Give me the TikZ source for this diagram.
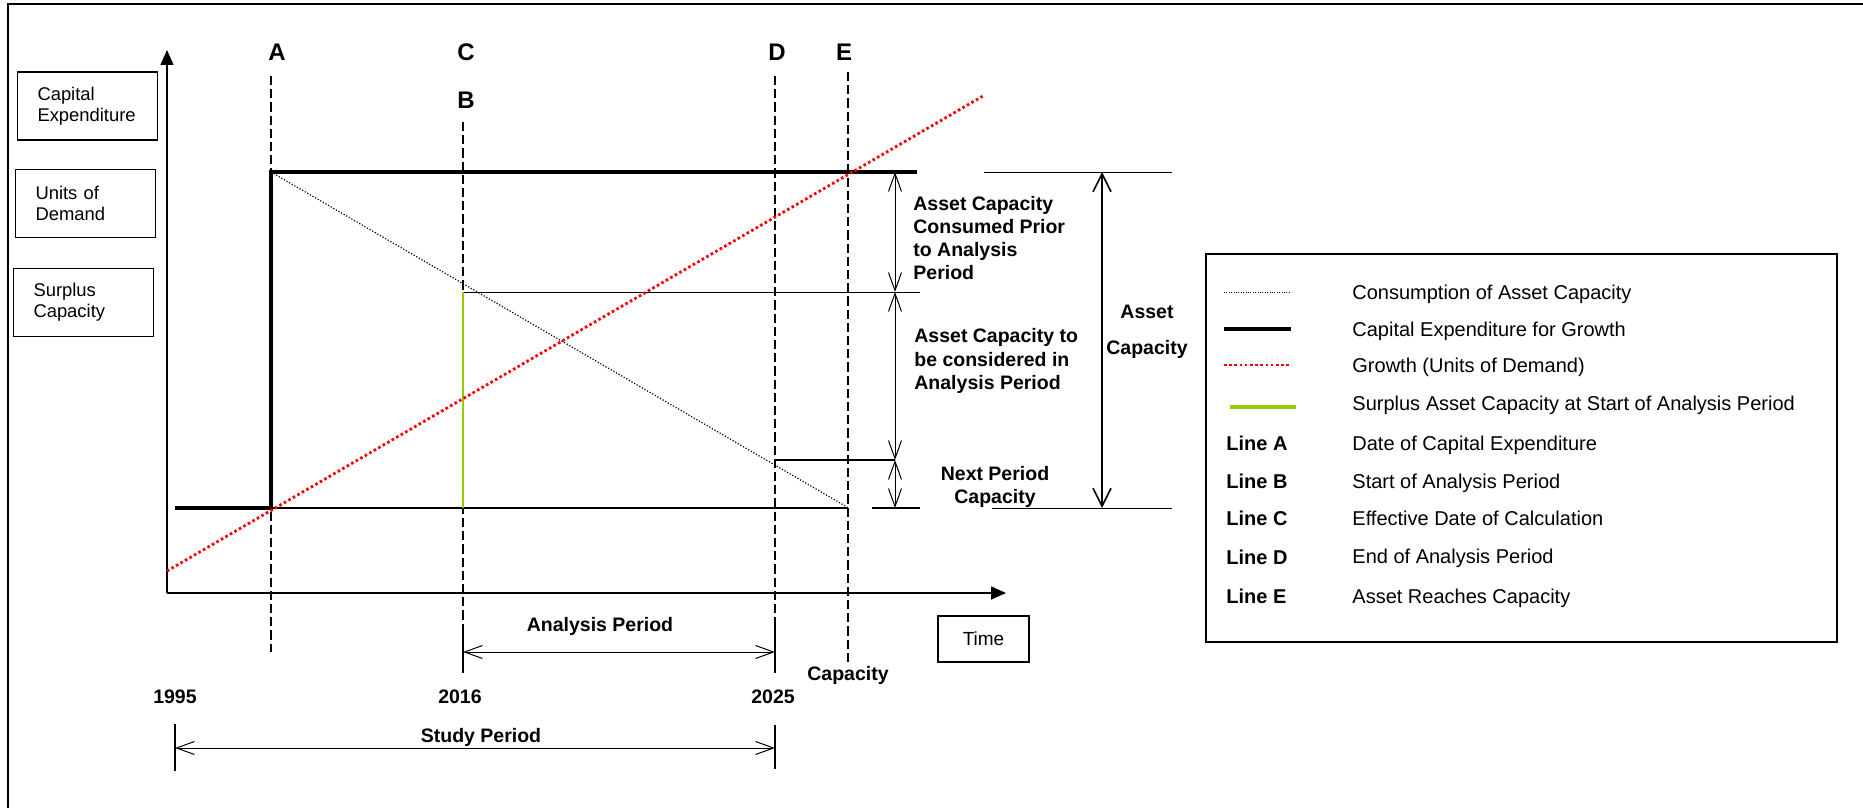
\documentclass[tikz,border=0pt]{standalone}
\usepackage{fontspec}
\setmainfont{Liberation Sans}
\usepackage{xcolor}
\definecolor{growred}{HTML}{FF0000}
\definecolor{surplus}{HTML}{99CC00}
\usetikzlibrary{arrows.meta,positioning,calc}
\tikzset{
  >={Straight Barb[length=9pt,width=6.5pt]},
  axis/.style   ={-{Triangle[length=7.5pt,width=6.5pt]},line width=0.8pt},
  capex/.style  ={line width=1.6pt},
  guide/.style  ={line width=0.65pt,dash pattern=on 4.6pt off 2pt},
  growth/.style ={draw=growred,line width=1.4pt,dash pattern=on 1.3pt off 1.3pt},
  consume/.style={line width=0.6pt,dash pattern=on 0.6pt off 0.9pt},
  surpl/.style  ={draw=surplus,line width=1.4pt},
  dim/.style    ={<->,line width=0.5pt},
  rule/.style   ={line width=0.5pt},
  lbl/.style    ={font=\fontsize{9.75}{11.6}\selectfont\bfseries,inner sep=0pt},
  letter/.style ={font=\fontsize{12}{14}\selectfont\bfseries,inner sep=0pt,
                  text height=8.6pt,text depth=0pt},
  sidebox/.style={draw,line width=0.9pt,minimum width=70pt,minimum height=34pt,
                  text width=50pt,inner xsep=10pt,align=left,
                  font=\fontsize{9.2}{10.5}\selectfont},
  legtext/.style={font=\fontsize{10}{12}\selectfont,anchor=west,inner sep=0pt,
                  text height=7.2pt,text depth=0pt},
  legkey/.style ={legtext,font=\fontsize{10}{12}\selectfont\bfseries},
}
\begin{document}
\begin{tikzpicture}[x=0.5pt,y=-0.5pt]
\useasboundingbox (0,0) rectangle (1863,808);
% frame
\draw[line width=1.15pt] (7.7,808) -- (7.7,3.8) -- (1863,3.8);
% side boxes
\node[sidebox] (capexbox)   at (87.5,106)   {Capital\\Expenditure};
\node[sidebox] (unitsbox)   at (85.5,203.5) {Units of\\Demand};
\node[sidebox] (surplusbox) at (83.5,302.5) {Surplus\\Capacity};
% axes
\coordinate (O) at (167,593);
\coordinate (ytop) at (167,50);
\coordinate (xend) at (1006,593);
\draw[axis] (O) -- (ytop);
\draw[axis] (O) -- (xend);
\node[draw,line width=0.9pt,minimum width=45.5pt,minimum height=23pt,
      font=\fontsize{9.5}{11}\selectfont] (time) at (983.5,639) {Time};
% guide lines
\foreach \n/\x/\top/\bot in {A/271/76/652, B/463/122/627, D/775/76/623, E/848/72/662}
  {\coordinate (\n top) at (\x,\top);
   \coordinate (\n bot) at (\x,\bot);
   \draw[guide] (\n top) -- (\n bot);}
\node[letter] (labA) at (277,52)  {A};
\node[letter] (labC) at (466,52)  {C};
\node[letter] (labB) at (466,100) {B};
\node[letter] (labD) at (777,52)  {D};
\node[letter] (labE) at (844,52)  {E};
% capital expenditure step
\coordinate (s0) at (175,508);
\coordinate (a0) at (271,508);
\coordinate (a1) at (271,172);
\coordinate (c1) at (917,172);
\coordinate (e0) at (848,508);
\draw[capex,line join=miter] (s0) -- (a0) -- (a1) -- (c1);
\draw[line width=0.85pt] (a0) -- (e0);
% consumption of capacity
\coordinate (e1) at (847,507);
\draw[consume] (a1) -- (e1);
% levels
\coordinate (b1) at (463,292);
\coordinate (b0) at (463,508);
\coordinate (r1) at (920,292);
\coordinate (d1) at (775,460);
\coordinate (d2) at (895,460);
\coordinate (n0) at (872,508);
\coordinate (n1) at (920,508);
\draw[rule] (b1) -- (r1);
\draw[line width=0.85pt] (d1) -- (d2);
\draw[line width=0.85pt] (n0) -- (n1);
\draw[surpl] (b1) -- (b0);
% growth
\coordinate (g0) at (167,571);
\coordinate (g1) at (983,96);
\draw[growth] (g0) -- (g1);
% capacity dimensions
\coordinate (m0) at (895,172);
\coordinate (m1) at (895,292);
\coordinate (m2) at (895,460);
\coordinate (m3) at (895,508);
\draw[dim] (m0) -- (m1);
\draw[dim] (m1) -- (m2);
\draw[dim] (m2) -- (m3);
\coordinate (t0) at (1102,172);
\coordinate (t1) at (1102,508);
\draw[rule] (984,172) coordinate (h0) -- (1172,172) coordinate (h1);
\draw[rule] (992,508) coordinate (h2) -- (1172,508) coordinate (h3);
\draw[dim,line width=0.8pt,{Straight Barb[length=9pt,width=9pt]}-{Straight Barb[length=9pt,width=9pt]}] (t0) -- (t1);
\node[lbl,anchor=west,align=left] (consumed) at (913,238)
  {Asset Capacity\\Consumed Prior\\to Analysis\\Period};
\node[lbl,anchor=west,align=left] (considered) at (914,361)
  {Asset Capacity to\\be considered in\\Analysis Period};
\node[lbl,align=center] (assetcap) at (1147,332) {Asset\\[6.5pt]Capacity};
\node[lbl,align=center] (nextcap) at (995,487) {Next Period\\Capacity};
% periods
\coordinate (p0) at (463,652);
\coordinate (p1) at (775,652);
\draw[dim] (p0) -- (p1);
\draw[rule,line width=0.65pt] (Bbot) -- (463,673);
\draw[rule,line width=0.65pt] (Dbot) -- (775,673);
\coordinate (q0) at (175,748);
\coordinate (q1) at (775,748);
\draw[dim] (q0) -- (q1);
\draw[rule,line width=0.65pt] (175,724) -- (175,771);
\draw[rule,line width=0.65pt] (775,725) -- (775,769);
\node[lbl] (analysis) at (600,626) {Analysis Period};
\node[lbl] (capE)     at (848,675) {Capacity};
\node[lbl] (y1995)    at (175,697) {1995};
\node[lbl] (y2016)    at (460,697) {2016};
\node[lbl] (y2025)    at (773,697) {2025};
\node[lbl] (study)    at (481,737) {Study Period};
% legend
\node[draw,line width=0.9pt,minimum width=315.5pt,minimum height=194pt,inner sep=0pt]
  (legend) at (1521.5,448) {};
\draw[consume,line width=0.5pt,dash pattern=on 0.5pt off 0.7pt] (1224,292) -- (1291,292);
\draw[capex,line width=1.7pt] (1224,329) -- (1291,329);
\draw[growth] (1224,365) -- (1291,365);
\draw[surpl,line width=1.7pt] (1230,407) -- (1296,407);
\foreach \yy/\desc [count=\i] in {292/Consumption of Asset Capacity,
    329/Capital Expenditure for Growth, 365/{Growth (Units of Demand)},
    403/Surplus Asset Capacity at Start of Analysis Period,
    443/Date of Capital Expenditure, 481/Start of Analysis Period,
    518/Effective Date of Calculation, 556/End of Analysis Period,
    596/Asset Reaches Capacity}
  {\node[legtext] (desc\i) at (1352,\yy) {\desc};}
\foreach \yy/\k in {443/A, 481/B, 518/C, 557/D, 596/E}
  {\node[legkey] (key\k) at (1226,\yy) {Line \k};}
\end{tikzpicture}
\end{document}
